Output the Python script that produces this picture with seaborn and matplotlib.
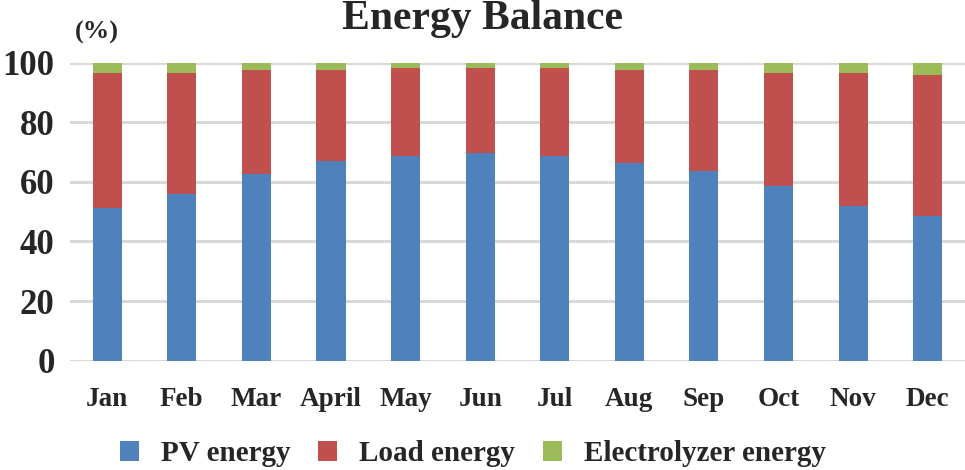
import matplotlib
matplotlib.use("Agg")
import matplotlib.pyplot as plt
from matplotlib.patches import Patch
import seaborn as sns
import pandas as pd
import numpy as np

months = ["Jan", "Feb", "Mar", "April", "May", "Jun", "Jul", "Aug", "Sep", "Oct", "Nov", "Dec"]
pv_energy = [51.2, 55.9, 62.6, 66.9, 68.6, 69.6, 68.6, 66.3, 63.5, 58.7, 52.0, 48.6]
load_energy = [45.2, 40.5, 34.8, 30.5, 29.5, 28.5, 29.5, 31.1, 33.9, 37.7, 44.4, 47.2]
electrolyzer_energy = [3.6, 3.6, 2.6, 2.6, 1.9, 1.9, 1.9, 2.6, 2.6, 3.6, 3.6, 4.2]
y_ticks = [0, 20, 40, 60, 80, 100]

sns.set_style("white")
plt.rcParams['font.family'] = ['Liberation Serif', 'DejaVu Serif']
plt.rcParams['font.weight'] = 'bold'

c_pv = "#4f81bd"
c_load = "#c0504d"
c_el = "#9bbb59"

df = pd.DataFrame({
    "month": months,
    "pv": pv_energy,
    "load": load_energy,
    "el": electrolyzer_energy,
})
df["pv_load"] = df["pv"] + df["load"]
df["total"] = df["pv_load"] + df["el"]

fig = plt.figure(figsize=(9.65, 4.7), dpi=100)
ax = fig.add_axes([0.0725, 0.2325, 0.9275, 0.6345])

bw = 0.39
kw = dict(saturation=1, width=bw, ax=ax, zorder=3, linewidth=0, edgecolor='none')
sns.barplot(data=df, x="month", y="total", color=c_el, **kw)
sns.barplot(data=df, x="month", y="pv_load", color=c_load, **kw)
sns.barplot(data=df, x="month", y="pv", color=c_pv, **kw)

ax.set_xlim(-0.5, len(months) - 0.5)
ax.set_ylim(0, 100)
ax.set_yticks(y_ticks)
ax.set_yticklabels([str(t) for t in y_ticks], fontsize=25, fontweight='bold')
ax.set_xticks(range(len(months)))
ax.set_xticklabels(months, fontsize=19.5, fontweight='bold')
ax.tick_params(axis='y', length=0, pad=11)
ax.tick_params(axis='x', length=0, pad=19)
ax.set_xlabel("")
ax.set_ylabel("")
ax.grid(axis='y', color="#d9d9d9", linewidth=2.2, zorder=0)
ax.set_axisbelow(True)
for s in ["top", "right", "left", "bottom"]:
    ax.spines[s].set_visible(False)

fig.text(0.5, 1.0, "Energy Balance", ha='center', va='top', fontsize=30, fontweight='bold')
fig.text(0.078, 0.932, "(%)", ha='left', va='center', fontsize=19, fontweight='bold')

handles = [Patch(facecolor=c_pv, edgecolor='none', label="PV energy"),
           Patch(facecolor=c_load, edgecolor='none', label="Load energy"),
           Patch(facecolor=c_el, edgecolor='none', label="Electrolyzer energy")]
fig.legend(handles=handles, loc='center', bbox_to_anchor=(0.49, 0.035), ncol=3, frameon=False,
           prop={'size': 21, 'weight': 'bold'}, handlelength=0.65, handleheight=0.65,
           handletextpad=0.75, columnspacing=0.95, borderpad=0)

fig.savefig("out.png", dpi=100)
